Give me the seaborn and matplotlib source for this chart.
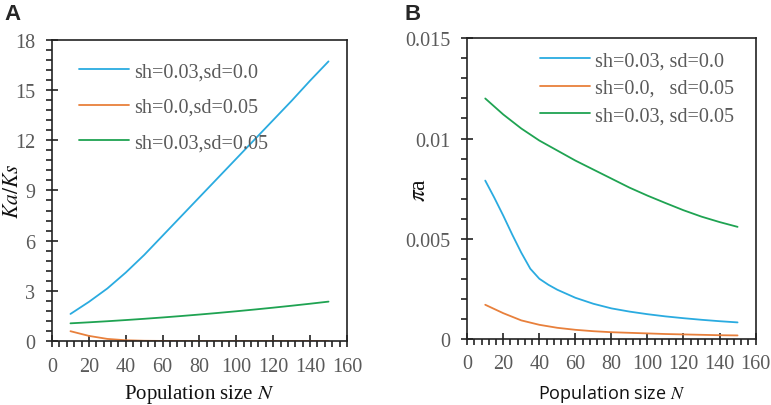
import numpy as np
import pandas as pd
import matplotlib
matplotlib.use("Agg")
import matplotlib.pyplot as plt
from matplotlib.ticker import MultipleLocator
import seaborn as sns

# ── data ────────────────────────────────────────────────────────────────
N = [10, 20, 30, 40, 50, 60, 70, 80, 90, 100, 110, 120, 130, 140, 150]
N_fine = [10, 15, 20, 25, 30, 35, 40, 45, 50, 60, 70, 80, 90, 100, 110, 120, 130, 140, 150]

labels_a = ["sh=0.03,sd=0.0", "sh=0.0,sd=0.05", "sh=0.03,sd=0.05"]
kaks_sh = [1.63, 2.35, 3.15, 4.1, 5.15, 6.3, 7.45, 8.6, 9.75, 10.9, 12.05, 13.2, 14.35, 15.55, 16.7]
kaks_sd = [0.6, 0.32, 0.14, 0.06, 0.03, 0.02, 0.01, 0.01, 0.01, 0.01, 0.01, 0.01, 0.01, 0.01, 0.01]
kaks_both = [1.07, 1.13, 1.195, 1.265, 1.34, 1.42, 1.505, 1.595, 1.69, 1.79, 1.895, 2.005, 2.12, 2.24, 2.365]

labels_b = ["sh=0.03, sd=0.0", "sh=0.0,   sd=0.05", "sh=0.03, sd=0.05"]
# pi_a values in units of 1e-3; the first series read at finer N steps
pia_sh = [7.9, 7.05, 6.15, 5.2, 4.3, 3.5, 3.0, 2.7, 2.45, 2.05, 1.75, 1.52, 1.36, 1.23, 1.12, 1.03, 0.95, 0.88, 0.82]
pia_sd = [1.7, 1.28, 0.92, 0.7, 0.55, 0.45, 0.38, 0.33, 0.3, 0.27, 0.24, 0.22, 0.2, 0.18, 0.17]
pia_both = [12.0, 11.2, 10.5, 9.9, 9.4, 8.9, 8.45, 8.0, 7.55, 7.15, 6.78, 6.42, 6.1, 5.83, 5.59]

colors = ["#2AABE0", "#E8803C", "#1FA352"]


def long_df(series, labels, xs, scale=1.0):
    rows = []
    for vals, lab, x in zip(series, labels, xs):
        for n, v in zip(x, vals):
            rows.append({"N": n, "value": v * scale, "group": lab})
    return pd.DataFrame(rows)


df_a = long_df([kaks_sh, kaks_sd, kaks_both], labels_a, [N, N, N])
df_b = long_df([pia_sh, pia_sd, pia_both], labels_b, [N_fine, N, N], scale=1e-3)

sns.set_theme(style="ticks")
plt.rcParams["font.family"] = ["Liberation Serif", "DejaVu Serif"]
plt.rcParams["mathtext.fontset"] = "stix"

fig = plt.figure(figsize=(7.71, 4.06), dpi=100)
ax_a = fig.add_axes([0.0675, 0.157, 0.3825, 0.743])
ax_b = fig.add_axes([0.606, 0.163, 0.374, 0.740])

tick_col = "#5a5a5a"


def style_axis(ax):
    for sp in ax.spines.values():
        sp.set_color("#222222")
        sp.set_linewidth(1.2)
    ax.tick_params(axis="x", which="major", direction="inout", length=8, width=1.2,
                   colors="#222222", labelcolor=tick_col, labelsize=14.5, pad=7)
    ax.tick_params(axis="x", which="minor", direction="out", length=4, width=1.2, colors="#222222")
    ax.tick_params(axis="y", which="major", direction="inout", length=8, width=1.2,
                   colors="#222222", labelcolor=tick_col, labelsize=14.5, pad=8)
    ax.tick_params(axis="y", which="minor", direction="out", length=4, width=1.2, colors="#222222")
    ax.set_xlim(0, 160)
    ax.xaxis.set_major_locator(MultipleLocator(20))
    ax.xaxis.set_minor_locator(MultipleLocator(4))


# ── panel A ─────────────────────────────────────────────────────────────
sns.lineplot(data=df_a, x="N", y="value", hue="group", palette=colors,
             linewidth=1.3, ax=ax_a)
style_axis(ax_a)
ax_a.set_ylim(0, 18)
ax_a.yaxis.set_major_locator(MultipleLocator(3))
ax_a.yaxis.set_minor_locator(MultipleLocator(0.6))
ax_a.set_xlabel("Population size $\\mathit{N}$", fontsize=15, color="#111111")
ax_a.xaxis.set_label_coords(0.5, -0.135)
ax_a.set_ylabel("$\\mathit{Ka/Ks}$", fontsize=15.5, color="#111111")
ax_a.yaxis.set_label_coords(-0.1, 0.5)
leg = ax_a.legend(loc="upper left", bbox_to_anchor=(0.091, 0.925), frameon=False,
                  borderpad=0, borderaxespad=0,
                  fontsize=14.5, handlelength=2.5, handletextpad=0.25, labelspacing=0.82)
for t in leg.get_texts():
    t.set_color(tick_col)

# ── panel B ─────────────────────────────────────────────────────────────
sns.lineplot(data=df_b, x="N", y="value", hue="group", palette=colors,
             linewidth=1.3, ax=ax_b)
style_axis(ax_b)
ax_b.set_ylim(0, 0.015)
ax_b.set_yticks([0, 0.005, 0.01, 0.015])
ax_b.set_yticklabels(["0", "0.005", "0.01", "0.015"])
ax_b.yaxis.set_minor_locator(MultipleLocator(0.001))
ax_b.set_xlabel("Population size $\\mathit{N}$", fontsize=13, color="#111111",
                family=["Open Sans", "DejaVu Sans"])
ax_b.xaxis.set_label_coords(0.5, -0.143)
ax_b.set_ylabel("$\\mathit{\\pi}$a", fontsize=17, color="#111111")
ax_b.yaxis.set_label_coords(-0.13, 0.5)
leg = ax_b.legend(loc="upper left", bbox_to_anchor=(0.252, 0.958), frameon=False,
                  borderpad=0, borderaxespad=0,
                  fontsize=14.5, handlelength=2.5, handletextpad=0.25, labelspacing=0.42)
for t in leg.get_texts():
    t.set_color(tick_col)

fig.text(0.006, 0.965, "A", fontsize=16, fontweight="bold", family=["Liberation Sans", "DejaVu Sans"],
         va="center")
fig.text(0.525, 0.965, "B", fontsize=16, fontweight="bold", family=["Liberation Sans", "DejaVu Sans"],
         va="center")

fig.savefig("out.png", dpi=100)
